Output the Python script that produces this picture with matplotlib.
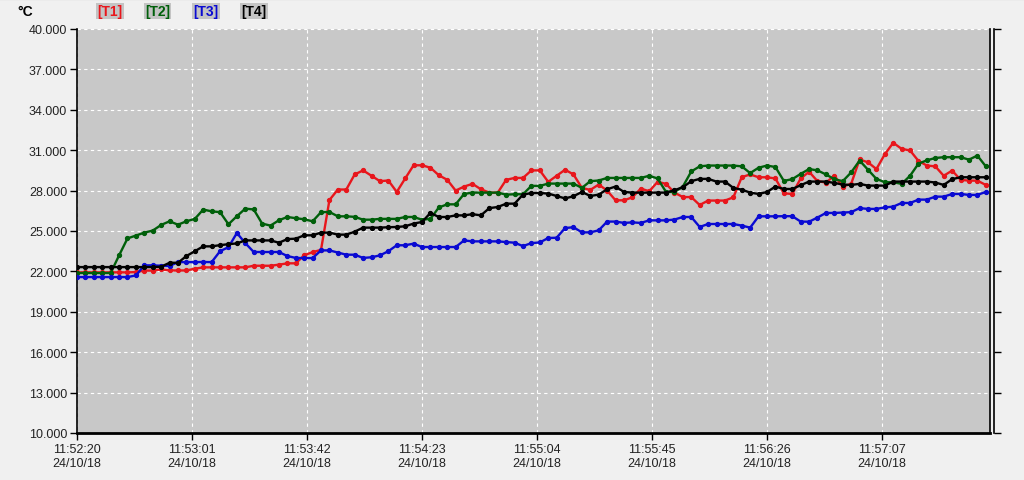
import matplotlib
matplotlib.use("Agg")
import matplotlib.pyplot as plt
from matplotlib.lines import Line2D
import numpy as np

# seconds since 11:52:20, one reading every 3 s
seconds = np.arange(0, 325, 3)

t1 = [21.93, 21.93, 21.93, 21.93, 21.93, 21.93, 21.93, 21.95, 22.06, 22.06,
      22.15, 22.07, 22.07, 22.07, 22.20, 22.30, 22.30, 22.30, 22.30, 22.30,
      22.30, 22.42, 22.42, 22.42, 22.50, 22.60, 22.60, 23.20, 23.43, 23.60,
      27.30, 28.08, 28.08, 29.20, 29.50, 29.10, 28.70, 28.75, 27.90, 28.90,
      29.88, 29.88, 29.70, 29.14, 28.80, 28.00, 28.30, 28.50, 28.10, 27.85,
      27.85, 28.80, 28.94, 28.94, 29.50, 29.50, 28.65, 29.10, 29.55, 29.20,
      28.20, 28.05, 28.45, 28.00, 27.28, 27.28, 27.50, 28.15, 27.95, 28.65,
      28.50, 27.85, 27.52, 27.52, 26.93, 27.26, 27.26, 27.26, 27.50, 29.00,
      29.20, 28.99, 28.99, 28.90, 27.80, 27.75, 28.90, 29.40, 28.70, 28.60,
      29.10, 28.30, 28.50, 30.31, 30.10, 29.60, 30.70, 31.55, 31.10, 30.98,
      30.20, 29.86, 29.80, 29.10, 29.49, 28.80, 28.74, 28.74, 28.42]

t2 = [21.88, 21.88, 21.88, 21.88, 21.88, 23.19, 24.45, 24.66, 24.88, 25.03,
      25.45, 25.72, 25.47, 25.72, 25.90, 26.59, 26.46, 26.40, 25.50, 26.10,
      26.66, 26.60, 25.55, 25.40, 25.80, 26.04, 25.95, 25.87, 25.72, 26.40,
      26.41, 26.09, 26.09, 26.05, 25.84, 25.84, 25.90, 25.90, 25.90, 26.04,
      26.04, 25.84, 25.90, 26.75, 26.98, 26.98, 27.75, 27.85, 27.85, 27.85,
      27.85, 27.70, 27.73, 27.73, 28.35, 28.35, 28.52, 28.52, 28.52, 28.52,
      28.20, 28.70, 28.75, 28.94, 28.94, 28.94, 28.94, 28.94, 29.10, 28.90,
      27.90, 27.90, 28.30, 29.42, 29.80, 29.86, 29.86, 29.86, 29.86, 29.80,
      29.30, 29.70, 29.86, 29.75, 28.72, 28.85, 29.24, 29.60, 29.50, 29.20,
      28.85, 28.70, 29.35, 30.23, 29.55, 28.87, 28.62, 28.62, 28.50, 29.10,
      30.00, 30.25, 30.42, 30.48, 30.48, 30.48, 30.30, 30.60, 29.80]

t3 = [21.58, 21.58, 21.58, 21.58, 21.58, 21.58, 21.58, 21.70, 22.45, 22.45,
      22.42, 22.40, 22.69, 22.69, 22.69, 22.70, 22.69, 23.50, 23.80, 24.85,
      24.10, 23.44, 23.44, 23.44, 23.44, 23.14, 23.00, 22.99, 22.99, 23.56,
      23.56, 23.40, 23.24, 23.24, 23.00, 23.05, 23.19, 23.50, 23.94, 23.94,
      24.06, 23.81, 23.81, 23.81, 23.81, 23.81, 24.30, 24.23, 24.23, 24.23,
      24.23, 24.18, 24.13, 23.88, 24.10, 24.15, 24.48, 24.50, 25.22, 25.28,
      24.90, 24.90, 25.05, 25.70, 25.70, 25.60, 25.64, 25.60, 25.79, 25.79,
      25.79, 25.85, 26.04, 26.04, 25.30, 25.52, 25.52, 25.52, 25.52, 25.40,
      25.25, 26.09, 26.09, 26.09, 26.10, 26.10, 25.70, 25.69, 26.00, 26.34,
      26.34, 26.37, 26.40, 26.70, 26.64, 26.64, 26.75, 26.81, 27.08, 27.08,
      27.33, 27.33, 27.55, 27.55, 27.75, 27.75, 27.68, 27.68, 27.90]

t4 = [22.32, 22.32, 22.32, 22.32, 22.32, 22.32, 22.32, 22.32, 22.32, 22.32,
      22.35, 22.64, 22.64, 23.14, 23.50, 23.86, 23.86, 23.95, 24.02, 24.08,
      24.30, 24.30, 24.30, 24.30, 24.13, 24.40, 24.43, 24.68, 24.68, 24.88,
      24.88, 24.73, 24.73, 24.95, 25.25, 25.25, 25.25, 25.28, 25.30, 25.35,
      25.55, 25.67, 26.34, 26.04, 26.04, 26.16, 26.16, 26.25, 26.16, 26.70,
      26.78, 27.03, 27.03, 27.70, 27.82, 27.82, 27.78, 27.60, 27.42, 27.58,
      27.90, 27.60, 27.70, 28.10, 28.30, 27.90, 27.85, 27.85, 27.85, 27.85,
      27.85, 28.03, 28.25, 28.70, 28.87, 28.87, 28.67, 28.67, 28.20, 28.07,
      27.85, 27.75, 27.90, 28.30, 28.12, 28.12, 28.40, 28.67, 28.67, 28.67,
      28.57, 28.45, 28.42, 28.50, 28.37, 28.37, 28.37, 28.67, 28.67, 28.67,
      28.67, 28.67, 28.60, 28.42, 28.85, 28.99, 28.99, 28.99, 28.99]

series_names = ["[T1]", "[T2]", "[T3]", "[T4]"]
series_colors = ["#e8161c", "#005f0a", "#0a0ad2", "#000000"]

xtick_secs = [0, 41, 82, 123, 164, 205, 246, 287]
xtick_labels = ["11:52:20\n24/10/18", "11:53:01\n24/10/18", "11:53:42\n24/10/18",
                "11:54:23\n24/10/18", "11:55:04\n24/10/18", "11:55:45\n24/10/18",
                "11:56:26\n24/10/18", "11:57:07\n24/10/18"]
yticks = [10, 13, 16, 19, 22, 25, 28, 31, 34, 37, 40]

plt.rcParams["font.family"] = ["Liberation Sans", "DejaVu Sans"]

fig = plt.figure(figsize=(10.24, 4.81), dpi=100)
fig.patch.set_facecolor("#f0f0f0")
ax = fig.add_axes([77 / 1024, 1 - 434 / 481, 913 / 1024, 404 / 481])
ax.set_facecolor("#c8c8c8")

for vals, col in zip([t1, t2, t3, t4], series_colors):
    ax.plot(seconds, vals, color=col, lw=1.7, marker="o", ms=2.8,
            mec=col, mfc=col, zorder=3)

ax.set_xlim(0, 325.5)
ax.set_ylim(10, 40)
ax.set_yticks(yticks)
ax.set_yticklabels([f"{v:.3f}" for v in yticks])
ax.set_xticks(xtick_secs)
ax.set_xticklabels(xtick_labels, linespacing=1.2)
ax.tick_params(axis="both", labelsize=9, direction="out", length=5,
               width=1, colors="black", pad=2, labelcolor="#222222")
ax.grid(True, color="white", ls=(0, (3, 3)), lw=0.8)
ax.set_axisbelow(True)
for side in ["left", "bottom", "right", "top"]:
    ax.spines[side].set_linewidth(1.2)
ax.spines["bottom"].set_linewidth(2)
ax.spines["top"].set_visible(False)

# second scale on the right, offset slightly
ax2 = ax.twinx()
ax2.set_ylim(10, 40)
ax2.set_yticks(yticks)
ax2.set_yticklabels([])
ax2.spines["right"].set_position(("outward", 3))
ax2.spines["right"].set_linewidth(1.2)
for side in ["left", "bottom", "top"]:
    ax2.spines[side].set_visible(False)
ax2.tick_params(axis="y", direction="out", length=5, width=1)

# header legend
fig.text(17 / 1024, 1 - 12 / 481, "°C", fontsize=10, fontweight="bold",
         va="center", ha="left")
leg_x = [97, 145, 193, 241]
for name, col, lx in zip(series_names, series_colors, leg_x):
    fig.text(lx / 1024, 1 - 12 / 481, name, color=col, fontsize=10,
             fontweight="bold", va="center", ha="left",
             bbox=dict(boxstyle="square,pad=0.1", fc="#c4c4c4", ec="none"))

fig.add_artist(Line2D([0, 1], [0.999, 0.999], color="#8a8a8a", lw=1.5,
                      transform=fig.transFigure))

fig.savefig("out.png", dpi=100, facecolor=fig.get_facecolor())
